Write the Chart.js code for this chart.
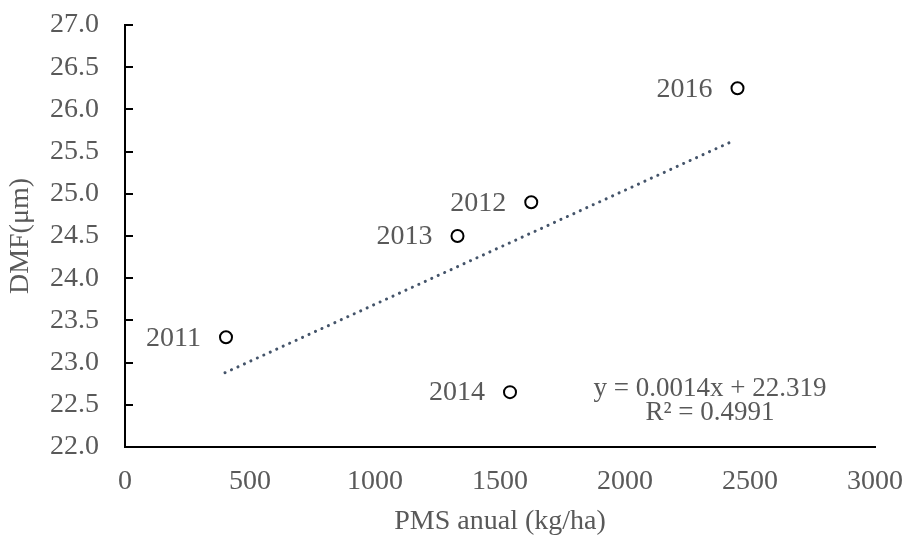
<!DOCTYPE html>
<html>
<head>
<meta charset="utf-8">
<script src="https://cdn.jsdelivr.net/npm/chart.js@4"></script>
<style>
  html, body { margin: 0; padding: 0; background: #fff; }
  #wrap { width: 907px; height: 537px; }
</style>
</head>
<body>
<div id="wrap"><canvas id="grafico"></canvas></div>
<script>
// datos
var anios = ['2011', '2012', '2013', '2014', '2016'];
var pms = [404, 1625, 1330, 1540, 2450];
var dmf = [23.3, 24.9, 24.5, 22.65, 26.25];
// linea de tendencia (extremos)
var tendX = [400, 2420];
var tendY = [22.88, 25.61];
var ecuacion = ['y = 0.0014x + 22.319', 'R² = 0.4991'];

var fuente = '"Liberation Serif", "Times New Roman", serif';
var gris = '#595959';

// etiquetas de los puntos, marcas del eje y y la ecuacion
var extras = {
  id: 'extras',
  afterDatasetsDraw: function(chart) {
    var ctx = chart.ctx;
    var sx = chart.scales.x, sy = chart.scales.y;
    ctx.save();
    ctx.fillStyle = gris;
    ctx.font = '28px ' + fuente;
    ctx.textAlign = 'right';
    ctx.textBaseline = 'middle';
    for (var i = 0; i < anios.length; i++) {
      ctx.fillText(anios[i], sx.getPixelForValue(pms[i]) - 25, sy.getPixelForValue(dmf[i]) + 1);
    }
    ctx.textAlign = 'center';
    ctx.font = '27px ' + fuente;
    ctx.fillText(ecuacion[0], sx.getPixelForValue(2340), sy.getPixelForValue(22.69));
    ctx.fillText(ecuacion[1], sx.getPixelForValue(2340), sy.getPixelForValue(22.40));
    // marcas hacia adentro
    ctx.strokeStyle = '#000';
    ctx.lineWidth = 2;
    sy.ticks.forEach(function(t) {
      var py = Math.round(sy.getPixelForValue(t.value));
      ctx.beginPath();
      ctx.moveTo(sx.left, py);
      ctx.lineTo(sx.left + 8, py);
      ctx.stroke();
    });
    ctx.restore();
  }
};

var ctx = document.getElementById('grafico').getContext('2d');
var chart = new Chart(ctx, {
  type: 'scatter',
  data: {
    datasets: [
      {
        label: 'DMF',
        data: pms.map(function(v, i) { return { x: v, y: dmf[i] }; }),
        pointRadius: 6,
        pointHoverRadius: 6,
        pointBorderWidth: 2,
        pointBorderColor: '#000',
        pointBackgroundColor: '#fff'
      },
      {
        label: 'Tendencia',
        type: 'line',
        data: tendX.map(function(v, i) { return { x: v, y: tendY[i] }; }),
        borderColor: '#44546A',
        borderWidth: 3,
        borderDash: [0.1, 7],
        borderCapStyle: 'round',
        pointRadius: 0,
        fill: false
      }
    ]
  },
  options: {
    responsive: true,
    maintainAspectRatio: false,
    animation: false,
    layout: { padding: { top: 25, right: 32, left: 0, bottom: 0 } },
    plugins: {
      legend: { display: false },
      tooltip: { enabled: false }
    },
    scales: {
      x: {
        type: 'linear',
        min: 0,
        max: 3000,
        ticks: {
          stepSize: 500, color: gris, font: { family: fuente, size: 28 }, padding: 18,
          callback: function(v) { return String(v); }
        },
        grid: { display: false, drawTicks: false },
        border: { color: '#000', width: 2 },
        title: { display: true, text: 'PMS anual (kg/ha)', color: gris, font: { family: fuente, size: 28 }, padding: { top: 4, bottom: -1 } },
        afterFit: function(s) { s.height = 90; s.paddingLeft = 0; s.paddingRight = 0; }
      },
      y: {
        min: 22,
        max: 27,
        ticks: {
          stepSize: 0.5, color: gris, font: { family: fuente, size: 28 }, padding: 26,
          callback: function(v) { return v.toFixed(1); }
        },
        grid: { display: false, drawTicks: false },
        border: { color: '#000', width: 2 },
        title: { display: true, text: 'DMF(μm)', color: gris, font: { family: fuente, size: 28 }, padding: { top: 4, bottom: 0 } },
        afterFit: function(s) { s.width = 125; s.paddingTop = 0; s.paddingBottom = 0; }
      }
    }
  },
  plugins: [extras]
});
</script>
</body>
</html>
